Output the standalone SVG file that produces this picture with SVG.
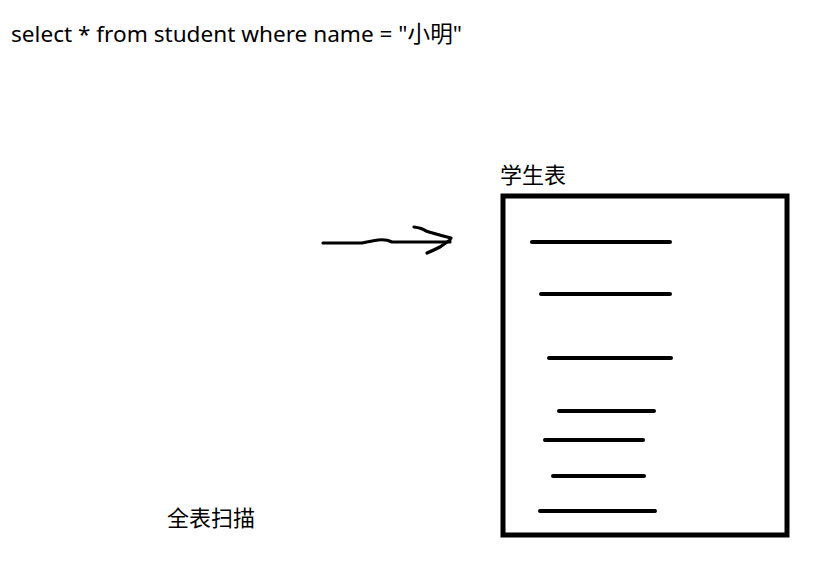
<svg xmlns="http://www.w3.org/2000/svg" width="839" height="562" viewBox="0 0 839 562">
<style>
text{font-family:"Noto Sans","Noto Sans CJK SC",sans-serif;fill:#000}
.cjk{font-family:"Noto Sans CJK SC",sans-serif;font-size:22px}
.row{stroke:#000;stroke-width:4;stroke-linecap:round;fill:none}
.pen{stroke:#000;stroke-width:3.2;stroke-linecap:round;stroke-linejoin:round;fill:none}
</style>
<rect width="839" height="562" fill="#fff"/>
<g id="query"><text x="11" y="42" font-size="22.6">select * from student where name = "小明"</text></g>
<g id="table">
<text class="cjk" x="500" y="183">学生表</text>
<rect x="503" y="196" width="284" height="339" fill="none" stroke="#000" stroke-width="5"/>
<line class="row" x1="532" y1="242" x2="670" y2="242"/>
<line class="row" x1="541" y1="294" x2="670" y2="294"/>
<line class="row" x1="549" y1="358" x2="671" y2="358"/>
<line class="row" x1="559" y1="411" x2="654" y2="411"/>
<line class="row" x1="545" y1="440" x2="643" y2="440"/>
<line class="row" x1="553" y1="476" x2="644" y2="476"/>
<line class="row" x1="540" y1="511" x2="655" y2="511"/>
</g>
<g id="label"><text class="cjk" x="167" y="526">全表扫描</text></g>
<g id="connectors">
<path class="pen" d="M323 243 L362 243 Q372 241 378 240 Q386 239 392 242 L450 242"/>
<path class="pen" d="M414 227 Q422 228 426 231 Q432 233 451 238"/>
<path class="pen" d="M427 253 Q434 250 440 247 L450 240"/>
</g>
</svg>
